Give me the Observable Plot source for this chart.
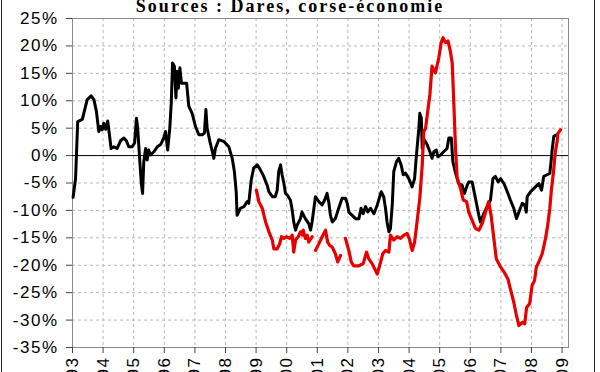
<!DOCTYPE html>
<html><head><meta charset="utf-8">
<script src="https://cdn.jsdelivr.net/npm/d3@7"></script>
<script src="https://cdn.jsdelivr.net/npm/@observablehq/plot@0.6"></script>
<style>
body{margin:0;background:#fff;}
#wrap{position:relative;width:600px;height:372px;overflow:hidden;background:#fff;}
#title{position:absolute;left:-10px;width:600px;top:-4px;line-height:18px;text-align:center;font:bold 18px "Liberation Serif","Times New Roman",serif;letter-spacing:2px;color:#000;}
.bl{position:absolute;top:0;width:1px;height:372px;background:#222;}
#wrap svg text{letter-spacing:1.5px;}
</style></head><body>
<div id="wrap"></div>
<script>
const blackYears = [1993.02,1993.10,1993.17,1993.32,1993.37,1993.48,1993.61,1993.70,1993.78,1993.86,1993.92,1993.97,1994.02,1994.08,1994.15,1994.22,1994.26,1994.35,1994.46,1994.57,1994.68,1994.76,1994.84,1994.95,1995.03,1995.09,1995.13,1995.20,1995.25,1995.29,1995.33,1995.39,1995.44,1995.49,1995.55,1995.66,1995.77,1995.88,1995.98,1996.04,1996.11,1996.18,1996.23,1996.27,1996.33,1996.38,1996.42,1996.46,1996.51,1996.56,1996.64,1996.73,1996.80,1996.91,1997.02,1997.13,1997.24,1997.31,1997.36,1997.40,1997.49,1997.57,1997.62,1997.67,1997.78,1997.94,1998.11,1998.22,1998.29,1998.35,1998.38,1998.49,1998.60,1998.71,1998.76,1998.84,1998.92,1999.04,1999.14,1999.25,1999.36,1999.42,1999.53,1999.63,1999.69,1999.74,1999.80,1999.85,1999.91,1999.96,2000.02,2000.12,2000.18,2000.23,2000.29,2000.34,2000.45,2000.50,2000.61,2000.72,2000.78,2000.83,2000.89,2000.94,2001.05,2001.16,2001.24,2001.32,2001.38,2001.43,2001.49,2001.59,2001.70,2001.81,2001.92,2001.98,2002.03,2002.14,2002.25,2002.36,2002.43,2002.50,2002.58,2002.65,2002.74,2002.85,2002.96,2003.09,2003.17,2003.23,2003.28,2003.34,2003.39,2003.45,2003.50,2003.59,2003.66,2003.74,2003.81,2003.88,2003.99,2004.10,2004.18,2004.24,2004.32,2004.35,2004.40,2004.43,2004.50,2004.59,2004.68,2004.75,2004.81,2004.89,2004.94,2005.03,2005.13,2005.24,2005.30,2005.38,2005.43,2005.52,2005.62,2005.73,2005.81,2005.90,2005.95,2006.06,2006.17,2006.28,2006.33,2006.44,2006.55,2006.66,2006.74,2006.82,2006.91,2006.99,2007.10,2007.21,2007.31,2007.42,2007.51,2007.59,2007.70,2007.78,2007.83,2007.86,2007.97,2008.13,2008.24,2008.33,2008.40,2008.51,2008.60,2008.64,2008.68,2008.73,2008.82];
const blackValues = [-7.6,-4.2,6.2,6.6,7.7,10.2,10.9,10.2,8.1,4.4,5.3,4.7,5.9,4.8,6.3,3.2,1.3,1.6,1.3,2.7,3.2,2.7,1.6,1.6,2.3,6.8,5.0,-1.1,-5.1,-6.9,-1.1,1.3,-0.8,1.0,0.1,0.7,1.6,2.0,3.2,4.4,1.0,5.0,9.9,16.9,16.3,10.5,15.4,12.3,16.0,13.2,13.2,13.2,9.0,7.7,5.3,3.8,3.8,4.1,8.4,5.0,2.6,0.7,-0.5,1.3,2.9,2.6,1.6,-0.5,-2.9,-6.6,-10.9,-9.6,-9.3,-8.4,-8.7,-4.5,-2.3,-1.7,-2.6,-3.8,-5.4,-6.6,-7.5,-7.5,-6.3,-2.9,-1.7,-3.5,-5.1,-6.9,-7.2,-8.1,-9.9,-12.1,-13.6,-12.7,-11.5,-10.3,-11.5,-12.4,-13.6,-12.1,-9.6,-7.5,-8.4,-9.0,-8.1,-6.9,-8.7,-10.9,-12.1,-11.5,-9.6,-7.8,-7.8,-8.7,-10.3,-10.9,-11.5,-11.5,-9.6,-10.6,-9.3,-10.3,-9.6,-10.6,-9.0,-6.6,-7.5,-9.6,-12.1,-13.9,-13.3,-9.0,-2.9,-1.1,-0.5,-1.7,-3.5,-3.2,-4.2,-5.7,-4.2,0.1,5.0,7.7,6.8,1.3,2.9,2.0,0.7,-0.5,0.7,1.0,-0.2,0.1,0.7,1.3,3.2,3.2,-1.1,-3.2,-5.1,-5.4,-6.9,-5.4,-4.8,-4.8,-7.8,-10.9,-12.1,-10.6,-9.3,-8.1,-4.2,-3.8,-4.8,-4.2,-5.1,-6.6,-8.1,-9.6,-11.5,-10.3,-8.7,-9.0,-10.3,-7.5,-6.6,-5.7,-5.1,-6.3,-3.8,-3.5,-3.2,-1.1,1.3,3.5,3.8];

const redYears = [1999.01,1999.09,1999.20,1999.31,1999.42,1999.53,1999.58,1999.69,1999.77,1999.83,1999.91,1999.99,2000.10,2000.18,2000.23,2000.29,2000.38,2000.45,2000.51,2000.54,2000.61,2000.67,2000.72,2000.83,2000.88,2000.94,2001.05,2001.16,2001.27,2001.34,2001.41,2001.49,2001.59,2001.67,2001.76,2001.84,2001.92,2002.03,2002.11,2002.19,2002.36,2002.50,2002.61,2002.68,2002.79,2002.90,2002.96,2003.07,2003.14,2003.23,2003.34,2003.39,2003.50,2003.61,2003.72,2003.83,2003.94,2004.02,2004.10,2004.18,2004.26,2004.35,2004.43,2004.48,2004.54,2004.61,2004.68,2004.75,2004.86,2004.97,2005.05,2005.11,2005.19,2005.27,2005.35,2005.41,2005.46,2005.52,2005.57,2005.68,2005.77,2005.88,2005.95,2006.06,2006.17,2006.28,2006.39,2006.50,2006.60,2006.68,2006.77,2006.85,2006.99,2007.10,2007.23,2007.31,2007.42,2007.51,2007.59,2007.70,2007.78,2007.84,2007.94,2008.02,2008.10,2008.16,2008.24,2008.35,2008.46,2008.53,2008.60,2008.65,2008.71,2008.78,2008.84,2008.86,2008.95];
const redValues = [-6.3,-8.4,-9.6,-12.1,-13.9,-15.4,-17.0,-17.0,-16.1,-14.8,-15.1,-14.8,-15.1,-14.5,-17.6,-15.4,-14.8,-13.9,-14.5,-13.6,-15.1,-14.5,-15.8,-14.8,null,-17.3,-16.1,-14.8,-13.6,-15.8,-16.4,-16.7,-17.9,-19.4,-18.2,null,-15.1,-17.3,-19.4,-20.1,-20.1,-19.7,-17.6,-18.8,-19.7,-20.9,-21.6,-19.4,-17.9,-17.3,-17.6,-14.5,-15.4,-14.8,-15.1,-14.5,-14.2,-15.4,-17.3,-15.8,-12.1,-7.8,-1.7,4.4,5.0,8.1,11.1,16.3,15.1,17.8,20.6,21.5,20.6,20.9,19.0,16.9,9.9,1.0,-4.0,-6.0,-8.1,-8.4,-10.3,-11.8,-13.3,-13.6,-12.4,-10.3,-8.4,-10.9,-15.1,-18.8,-20.3,-21.2,-22.5,-24.3,-26.7,-29.2,-31.0,-30.4,-30.7,-27.7,-27.0,-23.7,-22.8,-20.3,-19.4,-17.9,-15.1,-12.7,-9.6,-6.3,-3.5,0.7,2.6,4.0,4.7];

const yearTicks = [1993,1994,1995,1996,1997,1998,1999,2000,2001,2002,2003,2004,2005,2006,2007,2008,2009];
const pctTicks = [-35,-30,-25,-20,-15,-10,-5,0,5,10,15,20,25];
const titleText = "Sources : Dares, corse-économie";

const black = blackYears.map((y, i) => ({year: y, value: blackValues[i]}));
const red = redYears.map((y, i) => ({year: y, value: redValues[i]}));

const chart = Plot.plot({
  width: 600, height: 372,
  marginLeft: 72, marginRight: 32, marginTop: 18, marginBottom: 25,
  x: {domain: [1993, 2009.21], label: null},
  y: {domain: [-35, 25], label: null},
  style: {background: "transparent", fontFamily: "'Liberation Sans', Arial, sans-serif", fontSize: "17px", color: "#000"},
  marks: [
    Plot.gridX(yearTicks.slice(1), {stroke: "#b8b8b8", strokeOpacity: 1, strokeDasharray: "3,3"}),
    Plot.gridY(pctTicks.filter(d => d !== 0 && d !== 25 && d !== -35), {stroke: "#b8b8b8", strokeOpacity: 1, strokeDasharray: "3,3"}),
    Plot.frame({stroke: "#8a8a8a"}),
    Plot.ruleY([0], {stroke: "#000", strokeWidth: 1}),
    Plot.axisY(pctTicks, {label: null, tickFormat: d => d + "%", tickSize: 6, tickPadding: 8, fontSize: 17, stroke: "#444"}),
    Plot.axisX(yearTicks, {label: null, tickFormat: d => String(d % 100).padStart(2, "0"), tickRotate: -90, tickSize: 6, tickPadding: 3, fontSize: 17, stroke: "#444"}),
    Plot.line(black, {x: "year", y: "value", stroke: "#000", strokeWidth: 3, strokeLinejoin: "round"}),
    Plot.line(red, {x: "year", y: "value", stroke: "#e60000", strokeWidth: 3.2, strokeLinejoin: "round"})
  ]
});

const wrap = document.getElementById("wrap");
wrap.appendChild(chart);
const t = document.createElement("div");
t.id = "title";
t.textContent = titleText;
wrap.appendChild(t);
for (const l of [1, 594]) {
  const b = document.createElement("div");
  b.className = "bl";
  b.style.left = l + "px";
  wrap.appendChild(b);
}
</script>
</body></html>
